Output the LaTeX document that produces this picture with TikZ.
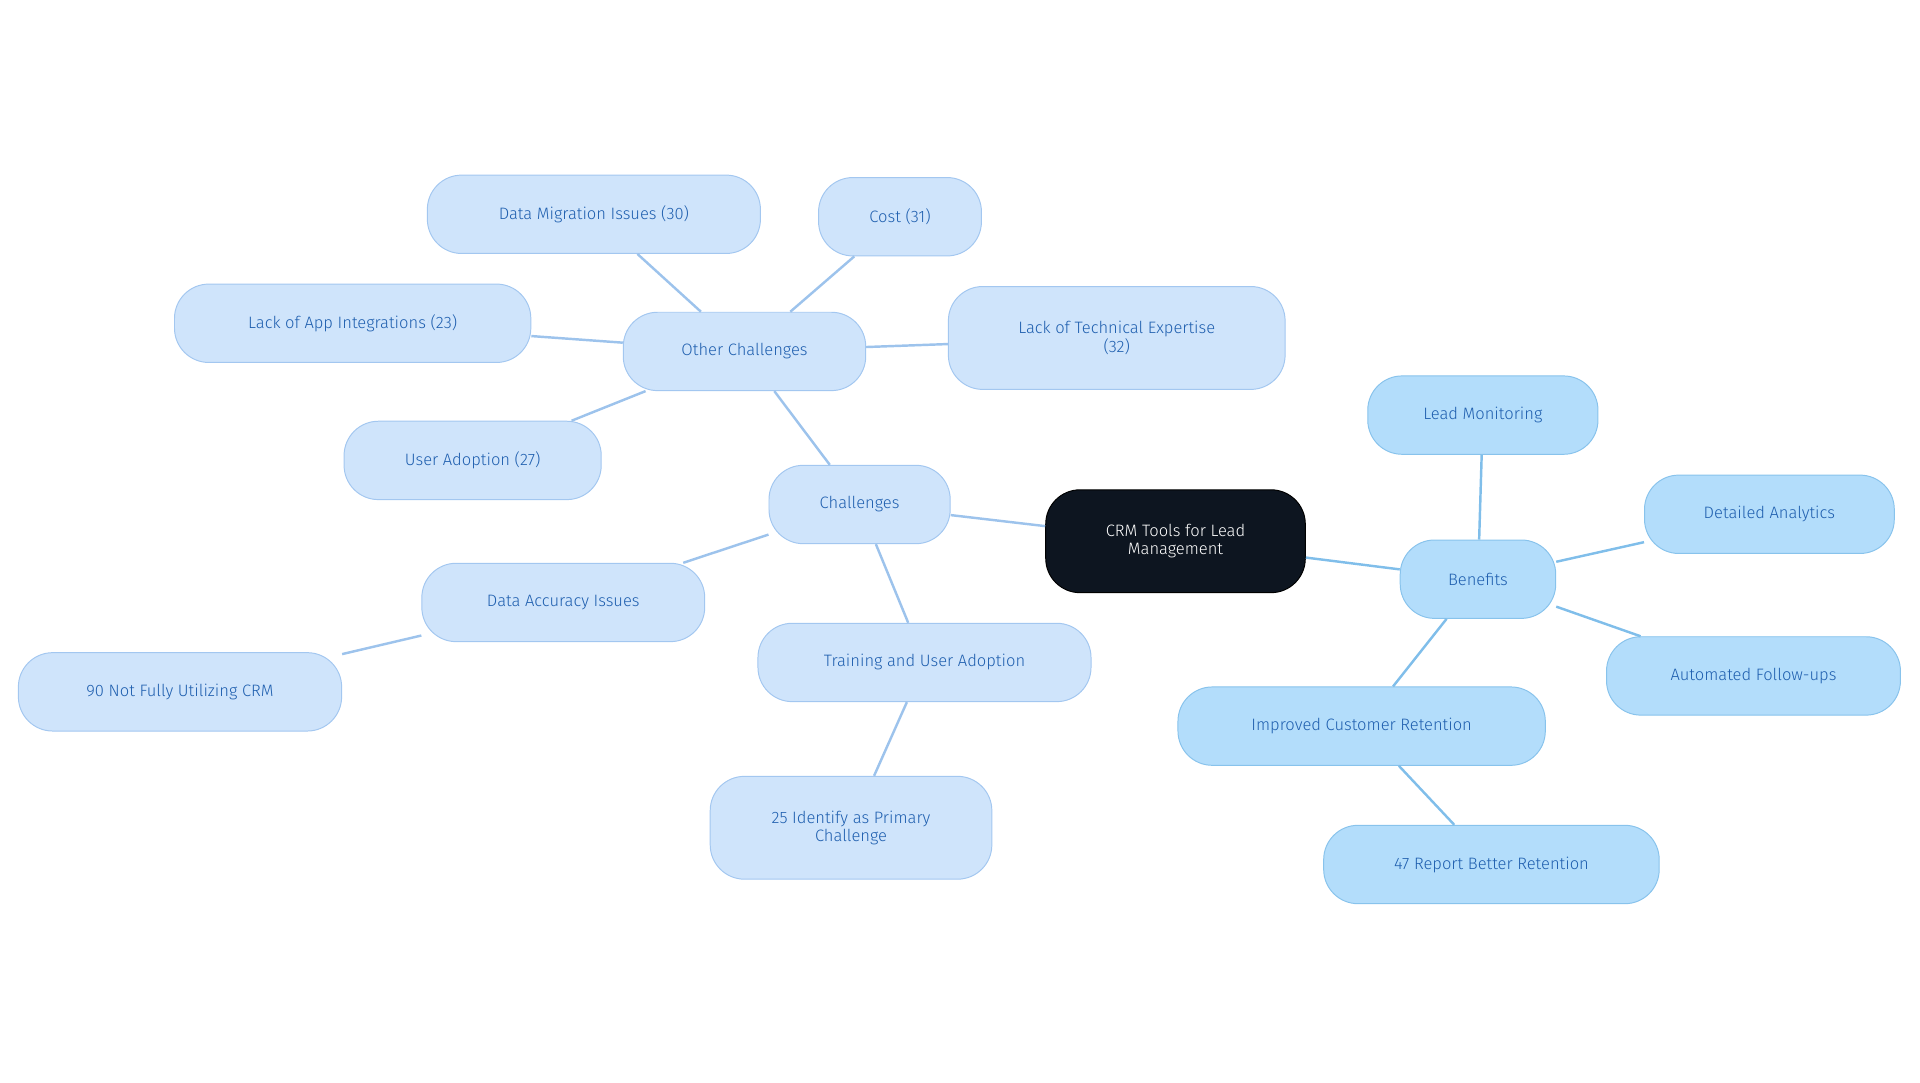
\documentclass[tikz,border=0pt]{standalone}
\usepackage{fontspec}
\setmainfont{Fira Sans Light}[BoldFont=Fira Sans]
\begin{document}
\begin{tikzpicture}[x=1pt,y=-1pt,
  base/.style={rounded corners=28pt,minimum height=64pt,align=center,font=\fontsize{13.5}{15}\selectfont,inner xsep=6pt,line width=0.8pt},
  ch/.style={base,fill=cfill,draw=cborder,text=ctext},
  bn/.style={base,fill=bfill,draw=bborder,text=ctext},
  root/.style={base,fill=rootfill,draw=black,text=white,minimum height=84pt},
  cl/.style={draw=cline,line width=2pt},
  bl/.style={draw=bline,line width=2pt}]
\definecolor{cfill}{HTML}{CFE4FB}
\definecolor{cborder}{HTML}{A3C7F0}
\definecolor{ctext}{HTML}{1F5FAF}
\definecolor{bfill}{HTML}{B3DDFB}
\definecolor{bborder}{HTML}{88C3EC}
\definecolor{rootfill}{HTML}{0D1520}
\definecolor{cline}{HTML}{9DC3EC}
\definecolor{bline}{HTML}{80BEEA}
\useasboundingbox (0,0) rectangle (1568,884);
\node[root,minimum width=212pt] (crm) at (960,442) {CRM Tools for Lead\\Management};
\node[ch,minimum width=148pt] (chal) at (702,412) {Challenges};
\node[ch,minimum width=198pt] (oth) at (608,287) {Other Challenges};
\node[ch,minimum width=272pt] (dmi) at (485,175) {Data Migration Issues (30)};
\node[ch,minimum width=133pt] (cost) at (735,177) {Cost (31)};
\node[ch,minimum width=291pt] (lai) at (288,264) {Lack of App Integrations (23)};
\node[ch,minimum width=275pt,minimum height=84pt] (lte) at (912,276) {Lack of Technical Expertise\\(32)};
\node[ch,minimum width=210pt] (ua) at (386,376) {User Adoption (27)};
\node[ch,minimum width=231pt] (dai) at (460,492) {Data Accuracy Issues};
\node[ch,minimum width=264pt] (nf) at (147,565) {90 Not Fully Utilizing CRM};
\node[ch,minimum width=272pt] (tua) at (755,541) {Training and User Adoption};
\node[ch,minimum width=230pt,minimum height=84pt] (ip) at (695,676) {25 Identify as Primary\\Challenge};
\node[bn,minimum width=127pt] (ben) at (1207,473) {Benefits};
\node[bn,minimum width=188pt] (lm) at (1211,339) {Lead Monitoring};
\node[bn,minimum width=204pt] (da) at (1445,420) {Detailed Analytics};
\node[bn,minimum width=240pt] (af) at (1432,552) {Automated Follow-ups};
\node[bn,minimum width=300pt] (icr) at (1112,593) {Improved Customer Retention};
\node[bn,minimum width=274pt] (rbr) at (1218,706) {47 Report Better Retention};
\begin{scope}[on background layer/.style={}]
\end{scope}
\begin{pgfonlayer}{main}\end{pgfonlayer}
\draw[cl] (crm) -- (chal);
\draw[cl] (chal) -- (oth);
\draw[cl] (oth) -- (dmi);
\draw[cl] (oth) -- (cost);
\draw[cl] (oth) -- (lai);
\draw[cl] (oth) -- (lte);
\draw[cl] (oth) -- (ua);
\draw[cl] (chal) -- (dai);
\draw[cl] (dai) -- (nf);
\draw[cl] (chal) -- (tua);
\draw[cl] (tua) -- (ip);
\draw[bl] (crm) -- (ben);
\draw[bl] (ben) -- (lm);
\draw[bl] (ben) -- (da);
\draw[bl] (ben) -- (af);
\draw[bl] (ben) -- (icr);
\draw[bl] (icr) -- (rbr);
\end{tikzpicture}
\end{document}
